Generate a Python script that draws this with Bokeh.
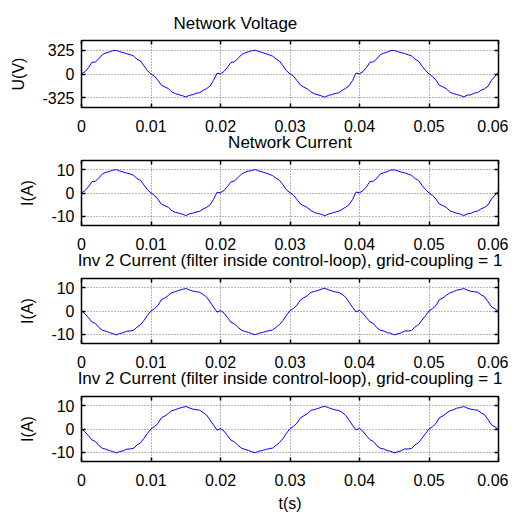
from bokeh.plotting import figure
from bokeh.layouts import column
from bokeh.models import FixedTicker, LinearAxis, Range1d
from bokeh.embed import file_html
from bokeh.resources import INLINE

# time in milliseconds (sampling grid)
t_ms = [0, 0.5, 1, 1.5, 2, 2.5, 3, 3.5, 4, 4.5, 5, 5.5, 6, 6.5, 7, 7.5, 8, 8.5, 9, 9.5,
        10, 10.5, 11, 11.5, 12, 12.5, 13, 13.5, 14, 14.5, 15, 15.5, 16, 16.5, 17, 17.5, 18, 18.5, 19, 19.5,
        20, 20.5, 21, 21.5, 22, 22.5, 23, 23.5, 24, 24.5, 25, 25.5, 26, 26.5, 27, 27.5, 28, 28.5, 29, 29.5,
        30, 30.5, 31, 31.5, 32, 32.5, 33, 33.5, 34, 34.5, 35, 35.5, 36, 36.5, 37, 37.5, 38, 38.5, 39, 39.5,
        40, 40.5, 41, 41.5, 42, 42.5, 43, 43.5, 44, 44.5, 45, 45.5, 46, 46.5, 47, 47.5, 48, 48.5, 49, 49.5,
        50, 50.5, 51, 51.5, 52, 52.5, 53, 53.5, 54, 54.5, 55, 55.5, 56, 56.5, 57, 57.5, 58, 58.5, 59, 59.5,
        60]

network_voltage = [
    0, 32, 87, 160, 165, 210, 265, 288, 302, 320, 325, 307, 293, 279, 265, 247, 201, 178, 110, 46,
    0, -32, -87, -155, -178, -201, -247, -270, -284, -297, -316, -293, -284, -265, -256, -224, -201, -165, -87, 10,
    2, 35, 90, 158, 168, 212, 262, 290, 305, 318, 327, 310, 295, 280, 262, 245, 205, 175, 112, 44,
    2, -30, -90, -152, -180, -205, -245, -272, -286, -300, -318, -295, -282, -268, -258, -226, -198, -162, -90, 12,
    3, 33, 88, 162, 166, 208, 266, 286, 300, 322, 324, 308, 292, 281, 264, 248, 203, 176, 108, 48,
    0, -34, -85, -157, -176, -203, -249, -268, -282, -295, -314, -291, -286, -263, -254, -222, -203, -167, -85, -30,
    25]

network_current = [
    0, 1.0, 2.7, 4.9, 5.1, 6.5, 8.2, 8.9, 9.3, 9.8, 10.1, 9.5, 9.0, 8.6, 8.2, 7.6, 6.2, 5.5, 3.4, 1.4,
    0, -1.0, -2.7, -4.8, -5.5, -6.2, -7.6, -8.3, -8.7, -9.1, -9.7, -9.0, -8.7, -8.2, -7.9, -6.9, -6.2, -5.1, -2.7, 0.3,
    0.1, 1.1, 2.8, 4.8, 5.2, 6.6, 8.1, 8.9, 9.4, 9.7, 10.1, 9.5, 9.1, 8.6, 8.1, 7.5, 6.3, 5.4, 3.5, 1.3,
    0.1, -0.9, -2.8, -4.7, -5.5, -6.3, -7.5, -8.4, -8.8, -9.2, -9.8, -9.1, -8.7, -8.2, -7.9, -7.0, -6.1, -5.0, -2.8, 0.4,
    0.1, 1.0, 2.7, 5.0, 5.1, 6.4, 8.2, 8.8, 9.2, 9.9, 10.0, 9.5, 9.0, 8.7, 8.1, 7.6, 6.2, 5.4, 3.3, 1.5,
    0, -1.0, -2.6, -4.8, -5.4, -6.2, -7.7, -8.2, -8.7, -9.1, -9.7, -9.0, -8.8, -8.1, -7.8, -6.8, -6.2, -5.1, -2.6, -0.9,
    0.8]

inv2_current = [
    0.1, -1.2, -2.9, -4.7, -5.4, -7.1, -8.3, -8.7, -9.3, -9.7, -10.3, -9.7, -9.4, -8.7, -8.6, -8.3, -6.9, -5.9, -4.0, -1.9,
    0.1, 1.0, 2.4, 4.9, 5.6, 6.7, 7.9, 8.3, 8.9, 9.3, 9.7, 9.1, 8.6, 8.3, 8.1, 7.1, 6.0, 3.9, 1.7, -0.5,
    0.2, -0.9, -2.8, -4.8, -5.5, -7.0, -8.2, -8.8, -9.2, -9.8, -10.2, -9.6, -9.3, -8.8, -8.5, -8.2, -7.0, -5.8, -4.1, -1.8,
    0.2, 1.1, 2.5, 4.8, 5.7, 6.6, 8.0, 8.4, 8.8, 9.4, 9.8, 9.2, 8.7, 8.2, 8.0, 7.2, 5.9, 3.8, 1.6, -0.4,
    0.3, -1.0, -2.9, -4.6, -5.4, -7.2, -8.3, -8.6, -9.3, -9.6, -10.3, -9.8, -9.4, -8.6, -8.6, -8.4, -6.8, -5.9, -3.9, -2.0,
    0.0, 1.0, 2.3, 4.9, 5.6, 6.8, 7.8, 8.3, 9.0, 9.2, 9.7, 9.0, 8.5, 8.3, 8.1, 7.0, 6.1, 4.0, 1.8, 0.9,
    -0.2]

x_ticks = [0, 0.01, 0.02, 0.03, 0.04, 0.05, 0.06]
x_tick_labels = ["0", "0.01", "0.02", "0.03", "0.04", "0.05", "0.06"]
u_ticks = [-325, 0, 325]
u_tick_labels = ["-325", "0", "325"]
i_ticks = [-10, 0, 10]
i_tick_labels = ["-10", "0", "10"]

titles = ["Network Voltage", "Network Current",
          "Inv 2 Current (filter inside control-loop), grid-coupling = 1",
          "Inv 2 Current (filter inside control-loop), grid-coupling = 1"]
y_labels = ["U(V)", "I(A)", "I(A)", "I(A)"]
series = [network_voltage, network_current, inv2_current, inv2_current]
y_tick_sets = [(u_ticks, u_tick_labels), (i_ticks, i_tick_labels),
               (i_ticks, i_tick_labels), (i_ticks, i_tick_labels)]
y_limits = [(-460, 460), (-14, 14), (-14, 14), (-14, 14)]

t = [v / 1000 for v in t_ms]
FONT = "Liberation Sans"

figs = []
for k in range(4):
    last = (k == 3)
    p = figure(frame_width=417, frame_height=(67 if k == 0 else 65),
               min_border_left=81, min_border_right=10,
               min_border_top=(40 if k == 0 else 39),
               min_border_bottom=(48 if last else 30),
               x_range=Range1d(0, 0.06), y_range=Range1d(*y_limits[k]),
               output_backend="svg", toolbar_location=None, tools="",
               margin=((0 if k == 0 else -16), 0, 0, 0))
    p.line(t, series[k], line_color="#0000ff", line_width=1)

    yt, ytl = y_tick_sets[k]
    p.add_layout(LinearAxis(ticker=FixedTicker(ticks=x_ticks)), "above")
    p.add_layout(LinearAxis(ticker=FixedTicker(ticks=yt)), "right")

    p.title.text = titles[k]
    p.title.text_font = FONT
    p.title.text_font_size = "17px"
    p.title.text_font_style = "normal"
    p.title.text_color = "black"
    if k == 0:
        p.title.align = "left"
        p.title.offset = 92
    else:
        p.title.align = "center"
    p.title.standoff = 16 if k == 0 else 18

    p.outline_line_color = "black"
    p.outline_line_width = 1.5
    p.outline_line_alpha = 1

    for ax in p.xaxis:
        ax.ticker = FixedTicker(ticks=x_ticks)
        ax.major_label_overrides = dict(zip(x_ticks, x_tick_labels))
    for ax in p.yaxis:
        ax.ticker = FixedTicker(ticks=yt)
        ax.major_label_overrides = dict(zip(yt, ytl))
    for ax in p.xaxis + p.yaxis:
        ax.major_tick_in = 4
        ax.major_tick_out = 0
        ax.minor_tick_line_color = None
        ax.major_tick_line_color = "black"
        ax.major_tick_line_width = 1.5
        ax.axis_line_color = None
        ax.major_label_text_font = FONT
        ax.major_label_text_font_size = "16px"
        ax.major_label_text_color = "black"
        ax.axis_label_text_font = FONT
        ax.axis_label_text_font_size = "16px"
        ax.axis_label_text_font_style = "normal"
        ax.axis_label_text_color = "black"
    for ax in (p.above[0], p.right[0]):
        ax.major_label_text_font_size = "0px"
        ax.major_label_text_color = None
        ax.major_label_standoff = 0
    p.below[0].major_label_standoff = 12
    p.left[0].major_label_standoff = 7
    p.left[0].axis_label = y_labels[k]
    p.left[0].axis_label_standoff = 12
    if last:
        p.below[0].axis_label = "t(s)"
        p.below[0].axis_label_standoff = 6

    p.grid.grid_line_color = "#707070"
    p.grid.grid_line_dash = "1 2"
    p.grid.grid_line_width = 1
    p.xgrid.ticker = FixedTicker(ticks=x_ticks)
    p.ygrid.ticker = FixedTicker(ticks=yt)

    p.background_fill_color = "white"
    p.border_fill_color = None
    figs.append(p)

layout = column(*figs, spacing=0)
open("out.html", "w").write(file_html(layout, INLINE))
